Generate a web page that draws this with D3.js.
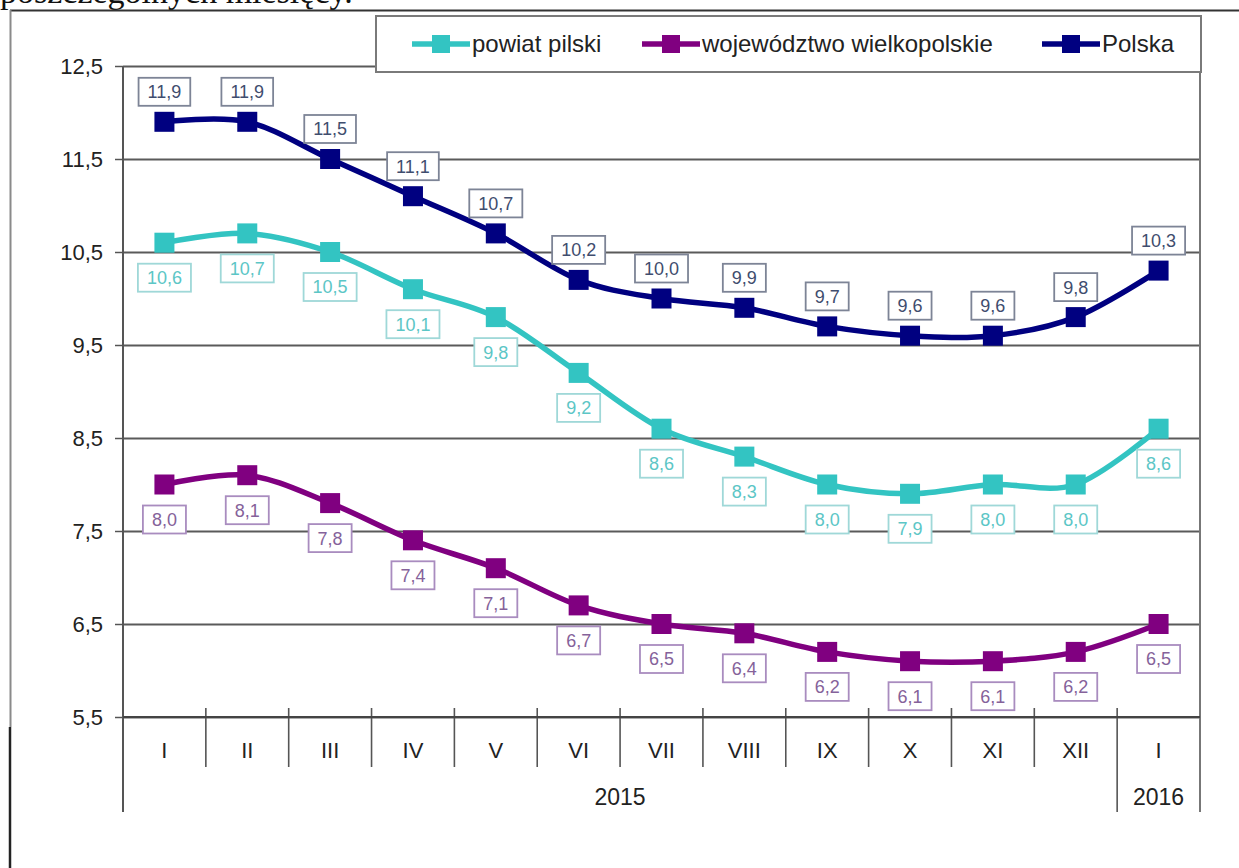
<!DOCTYPE html>
<html>
<head>
<meta charset="utf-8">
<script src="https://cdn.jsdelivr.net/npm/d3@7/dist/d3.min.js"></script>
<style>
  html, body { margin: 0; padding: 0; background: #fff; }
  svg { display: block; }
  text { font-family: "Liberation Sans", Arial, sans-serif; }
</style>
</head>
<body>
<svg id="chart" width="1239" height="868"></svg>
<script>
// ---- data ----
const months = ["I", "II", "III", "IV", "V", "VI", "VII", "VIII", "IX", "X", "XI", "XII", "I"];
const years = ["2015", "2016"];
const yearSpans = [[0, 11], [12, 12]];
const yTicks = [5.5, 6.5, 7.5, 8.5, 9.5, 10.5, 11.5, 12.5];

const seriesNames = ["powiat pilski", "województwo wielkopolskie", "Polska"];
const powiatPilski = [10.6, 10.7, 10.5, 10.1, 9.8, 9.2, 8.6, 8.3, 8.0, 7.9, 8.0, 8.0, 8.6];
const wojWielkopolskie = [8.0, 8.1, 7.8, 7.4, 7.1, 6.7, 6.5, 6.4, 6.2, 6.1, 6.1, 6.2, 6.5];
const polska = [11.9, 11.9, 11.5, 11.1, 10.7, 10.2, 10.0, 9.9, 9.7, 9.6, 9.6, 9.8, 10.3];

// ---- styles ----
const styles = [
  { color: "#33c4c2", text: "#5cc6c6", box: "#9fd8d8", dy: 35 },
  { color: "#800080", text: "#85629a", box: "#a98cbf", dy: 35 },
  { color: "#000080", text: "#3f4d6e", box: "#7d8496", dy: -30 }
];
const seriesData = [powiatPilski, wojWielkopolskie, polska];

const svg = d3.select("#chart");
const pLeft = 123, pRight = 1200, pTop = 66, pBottom = 717;

const x = d3.scaleBand().domain(d3.range(months.length)).range([pLeft, pRight]);
const y = d3.scaleLinear().domain([5.5, 12.5]).range([pBottom, pTop]);
const fmt = d => d.toFixed(1).replace(".", ",");

// ---- document frame (scanned page) ----
svg.append("text")
  .attr("x", 0).attr("y", 3)
  .style("font-family", "'Liberation Serif', 'Times New Roman', serif")
  .style("font-size", "34px").attr("fill", "#111")
  .text("poszczególnych miesięcy.");
svg.append("line").attr("x1", 10).attr("x2", 1239).attr("y1", 10.5).attr("y2", 10.5)
  .attr("stroke", "#333").attr("stroke-width", 2);
svg.append("line").attr("x1", 10.5).attr("x2", 10.5).attr("y1", 10).attr("y2", 727)
  .attr("stroke", "#8a8a8a").attr("stroke-width", 2);
svg.append("line").attr("x1", 10).attr("x2", 10).attr("y1", 727).attr("y2", 868)
  .attr("stroke", "#222").attr("stroke-width", 2.5);

// ---- gridlines ----
svg.append("g")
  .attr("transform", `translate(${pLeft},0)`)
  .call(d3.axisLeft(y).tickValues(yTicks).tickSize(-(pRight - pLeft)).tickFormat(""))
  .call(g => g.select(".domain").remove())
  .call(g => g.selectAll("line").attr("stroke", "#5a5a5a").attr("stroke-width", 2));

// ---- y axis ----
svg.append("g")
  .attr("transform", `translate(${pLeft},0)`)
  .call(d3.axisLeft(y).tickValues(yTicks).tickSize(8).tickPadding(12).tickFormat(fmt))
  .call(g => g.select(".domain").remove())
  .call(g => g.selectAll("line").attr("stroke", "#555").attr("stroke-width", 1.5))
  .call(g => g.selectAll("text").attr("fill", "#222").style("font-size", "22px")
    .style("font-family", "'Liberation Sans', Arial, sans-serif"));

// y axis line + right border
svg.append("line").attr("x1", pLeft).attr("x2", pLeft).attr("y1", pTop).attr("y2", 812)
  .attr("stroke", "#555").attr("stroke-width", 2);
svg.append("line").attr("x1", pRight).attr("x2", pRight).attr("y1", pTop).attr("y2", 812)
  .attr("stroke", "#777").attr("stroke-width", 2);

// ---- x axis separators ----
const yearBounds = new Set(yearSpans.map(s => s[0]));
d3.range(1, months.length).forEach(i => {
  const bx = x(i);
  svg.append("line").attr("x1", bx).attr("x2", bx)
    .attr("y1", pBottom - 9).attr("y2", yearBounds.has(i) ? 812 : 767)
    .attr("stroke", "#555").attr("stroke-width", 1.6);
});
svg.append("line").attr("x1", pLeft).attr("x2", pRight).attr("y1", pBottom).attr("y2", pBottom)
  .attr("stroke", "#444").attr("stroke-width", 2);

// month labels
svg.append("g").selectAll("text").data(months).join("text")
  .attr("x", (d, i) => x(i) + x.bandwidth() / 2)
  .attr("y", 750).attr("dy", "0.35em")
  .attr("text-anchor", "middle")
  .attr("fill", "#222").style("font-size", "22px")
  .text(d => d);

// year labels
svg.append("g").selectAll("text").data(years).join("text")
  .attr("x", (d, i) => (x(yearSpans[i][0]) + x(yearSpans[i][1]) + x.bandwidth()) / 2)
  .attr("y", 797).attr("dy", "0.35em")
  .attr("text-anchor", "middle")
  .attr("fill", "#222").style("font-size", "23px")
  .text(d => d);

// ---- series lines and markers ----
const line = d3.line()
  .x((d, i) => x(i) + x.bandwidth() / 2)
  .y(d => y(d))
  .curve(d3.curveCatmullRom.alpha(0));

seriesData.forEach((data, si) => {
  const st = styles[si];
  const g = svg.append("g");
  g.append("path").datum(data)
    .attr("d", line).attr("fill", "none")
    .attr("stroke", st.color).attr("stroke-width", 5.5)
    .attr("stroke-linejoin", "round");
  g.selectAll("rect").data(data).join("rect")
    .attr("x", (d, i) => x(i) + x.bandwidth() / 2 - 10)
    .attr("y", d => y(d) - 10)
    .attr("width", 20).attr("height", 20)
    .attr("fill", st.color);
});

// ---- data labels ----
seriesData.forEach((data, si) => {
  const st = styles[si];
  const g = svg.append("g");
  data.forEach((d, i) => {
    const cx = x(i) + x.bandwidth() / 2;
    const cy = y(d) + st.dy;
    const lbl = g.append("g");
    const r = lbl.append("rect");
    const t = lbl.append("text")
      .attr("x", cx).attr("y", cy).attr("dy", "0.36em")
      .attr("text-anchor", "middle")
      .attr("fill", st.text).style("font-size", "18px")
      .text(fmt(d));
    const w = t.node().getComputedTextLength() + 18;
    r.attr("x", cx - w / 2).attr("y", cy - 14)
      .attr("width", w).attr("height", 28)
      .attr("fill", "#fff").attr("stroke", st.box).attr("stroke-width", 1.8);
  });
});

// ---- legend ----
const lg = svg.append("g");
lg.append("rect").attr("x", 376).attr("y", 16).attr("width", 825).attr("height", 56)
  .attr("fill", "#fff").attr("stroke", "#7a7a7a").attr("stroke-width", 2);
const legendX = [412, 642, 1042];
seriesNames.forEach((name, si) => {
  const st = styles[si];
  const lx = legendX[si];
  lg.append("line").attr("x1", lx).attr("x2", lx + 58).attr("y1", 44).attr("y2", 44)
    .attr("stroke", st.color).attr("stroke-width", 5.5);
  lg.append("rect").attr("x", lx + 20).attr("y", 35).attr("width", 18).attr("height", 18)
    .attr("fill", st.color);
  lg.append("text").attr("x", lx + 60).attr("y", 44).attr("dy", "0.35em")
    .attr("fill", "#222").style("font-size", "24px")
    .text(name);
});
</script>
</body>
</html>
